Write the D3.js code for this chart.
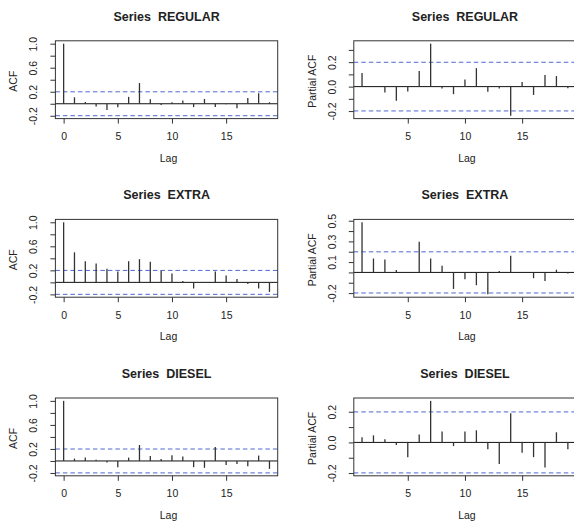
<!DOCTYPE html>
<html>
<head>
<meta charset="utf-8">
<script src="https://cdn.jsdelivr.net/npm/d3@7"></script>
<style>
  body { margin: 0; background: #fff; }
  text { font-family: "Liberation Sans", Arial, sans-serif; fill: #222; }
</style>
</head>
<body>
<div id="acf-grid"></div>
<script>
// acf / pacf values
var acfLags = d3.range(0, 20);
var pacfLags = d3.range(1, 20);

var regularAcf = [1.0, 0.108, 0.03, -0.045, -0.105, -0.06, 0.115, 0.345, 0.075, -0.02,
  0.025, 0.055, -0.055, 0.08, -0.055, -0.01, -0.075, 0.095, 0.175, 0.025];
var regularPacf = [0.112, 0.005, -0.049, -0.116, -0.04, 0.127, 0.351, -0.016, -0.062, 0.059,
  0.151, -0.043, -0.016, -0.238, 0.038, -0.068, 0.095, 0.086, -0.014];

var extraAcf = [1.0, 0.5, 0.352, 0.313, 0.227, 0.182, 0.352, 0.386, 0.341, 0.193,
  0.148, 0.023, -0.102, 0.005, 0.182, 0.114, 0.057, -0.028, -0.102, -0.159];
var extraPacf = [0.485, 0.134, 0.124, 0.023, 0.003, 0.297, 0.134, 0.065, -0.16, -0.065,
  -0.124, -0.212, 0.013, 0.16, -0.003, -0.056, -0.082, 0.026, -0.01];

var dieselAcf = [1.0, 0.039, 0.056, 0.022, -0.024, -0.103, 0.056, 0.266, 0.084, 0.033,
  0.096, 0.073, -0.103, -0.114, 0.232, -0.069, -0.052, -0.086, 0.09, -0.132];
var dieselPacf = [0.033, 0.046, 0.02, -0.017, -0.096, 0.052, 0.271, 0.072, -0.024, 0.072,
  0.079, -0.044, -0.14, 0.19, -0.068, -0.096, -0.164, 0.066, -0.044];

// series names, lag tick labels and which y ticks get a label
var seriesNames = ["REGULAR", "EXTRA", "DIESEL"];
var acfLagTicks = [0, 5, 10, 15];
var pacfLagTicks = [5, 10, 15];
var acfYLabels = [-0.2, 0.2, 0.6, 1.0];
var regularPacfYLabels = [-0.2, 0, 0.2];
var extraPacfYLabels = [-0.2, 0.1, 0.3, 0.5];
var dieselPacfYLabels = [-0.2, 0, 0.2];

// 95% band
var clim = 0.199;

var panels = [
  {row: 0, col: 0, name: seriesNames[0], values: regularAcf, lags: acfLags, xticks: acfLagTicks, ylabels: acfYLabels, ytitle: "ACF"},
  {row: 0, col: 1, name: seriesNames[0], values: regularPacf, lags: pacfLags, xticks: pacfLagTicks, ylabels: regularPacfYLabels, ytitle: "Partial ACF"},
  {row: 1, col: 0, name: seriesNames[1], values: extraAcf, lags: acfLags, xticks: acfLagTicks, ylabels: acfYLabels, ytitle: "ACF"},
  {row: 1, col: 1, name: seriesNames[1], values: extraPacf, lags: pacfLags, xticks: pacfLagTicks, ylabels: extraPacfYLabels, ytitle: "Partial ACF"},
  {row: 2, col: 0, name: seriesNames[2], values: dieselAcf, lags: acfLags, xticks: acfLagTicks, ylabels: acfYLabels, ytitle: "ACF"},
  {row: 2, col: 1, name: seriesNames[2], values: dieselPacf, lags: pacfLags, xticks: pacfLagTicks, ylabels: dieselPacfYLabels, ytitle: "Partial ACF"}
];

// layout of the grid
var colStep = 298.4, rowStep = 178.6;
var box = {left: 55.4, right: 277.7, top: 40.8, bottom: 118.6};

var svg = d3.select("#acf-grid")
  .append("svg")
  .attr("width", 574)
  .attr("height", 522);

// R style 4% padding of a range
function pad(ext) {
  var d = (ext[1] - ext[0]) * 0.04;
  return [ext[0] - d, ext[1] + d];
}

function fmt(v) {
  if (Math.abs(v) < 1e-9) v = 0;
  return v.toFixed(1);
}

panels.forEach(function(p) {
  var g = svg.append("g")
    .attr("transform", "translate(" + (p.col * colStep) + "," + (p.row * rowStep) + ")");

  var x = d3.scaleLinear()
    .domain(pad(d3.extent(p.lags)))
    .range([box.left, box.right]);

  var ylim = [Math.min(-clim, d3.min(p.values)), Math.max(clim, d3.max(p.values))];
  var y = d3.scaleLinear()
    .domain(pad(ylim))
    .range([box.bottom, box.top]);

  // title
  g.append("text")
    .attr("x", (box.left + box.right) / 2)
    .attr("y", box.top - 20.3)
    .attr("text-anchor", "middle")
    .style("font-size", "12.5px")
    .style("font-weight", "bold")
    .style("white-space", "pre")
    .text("Series  " + p.name);

  // x axis
  var xAxis = g.append("g")
    .attr("transform", "translate(0," + box.bottom + ")")
    .call(d3.axisBottom(x).tickValues(p.xticks).tickSize(5).tickSizeOuter(0));
  xAxis.select(".domain").remove();
  xAxis.selectAll("line").attr("stroke", "#333");
  xAxis.selectAll("text")
    .attr("y", 21.4)
    .attr("dy", 0)
    .style("font-size", "10.5px")
    .attr("fill", "#222");

  // y axis, labels rotated like R
  var yAxis = g.append("g")
    .attr("transform", "translate(" + box.left + ",0)")
    .call(d3.axisLeft(y).ticks(6).tickSize(5).tickSizeOuter(0)
      .tickFormat(function(d) {
        var hit = p.ylabels.some(function(v) { return Math.abs(v - d) < 1e-6; });
        return hit ? fmt(d) : "";
      }));
  yAxis.select(".domain").remove();
  yAxis.selectAll("line").attr("stroke", "#333");
  yAxis.selectAll("text")
    .attr("x", 0)
    .attr("dy", 0)
    .attr("transform", "translate(-18,0) rotate(-90)")
    .attr("text-anchor", "middle")
    .style("font-size", "10.5px")
    .attr("fill", "#222");

  // axis titles
  g.append("text")
    .attr("transform", "translate(" + (box.left - 38) + "," + ((box.top + box.bottom) / 2 + 1.5) + ") rotate(-90)")
    .attr("text-anchor", "middle")
    .style("font-size", "10.5px")
    .text(p.ytitle);

  g.append("text")
    .attr("x", (box.left + box.right) / 2 + 2)
    .attr("y", box.bottom + 43)
    .attr("text-anchor", "middle")
    .style("font-size", "10.5px")
    .text("Lag");

  // zero line
  g.append("line")
    .attr("x1", box.left).attr("x2", box.right)
    .attr("y1", y(0)).attr("y2", y(0))
    .attr("stroke", "#111")
    .attr("stroke-width", 1);

  // confidence band
  g.selectAll(".ci")
    .data([clim, -clim]).enter().append("line")
    .attr("class", "ci")
    .attr("x1", box.left).attr("x2", box.right)
    .attr("y1", function(d) { return y(d); })
    .attr("y2", function(d) { return y(d); })
    .attr("stroke", "#4d68cf")
    .attr("stroke-width", 1)
    .attr("stroke-dasharray", "4.5,3");

  // spikes
  g.selectAll(".spike")
    .data(p.values).enter().append("line")
    .attr("class", "spike")
    .attr("x1", function(d, i) { return x(p.lags[i]); })
    .attr("x2", function(d, i) { return x(p.lags[i]); })
    .attr("y1", y(0))
    .attr("y2", function(d) { return y(d); })
    .attr("stroke", "#333")
    .attr("stroke-width", 1.3);

  // box
  g.append("rect")
    .attr("x", box.left).attr("y", box.top)
    .attr("width", box.right - box.left)
    .attr("height", box.bottom - box.top)
    .attr("fill", "none")
    .attr("stroke", "#333")
    .attr("stroke-width", 1);
});
</script>
</body>
</html>
